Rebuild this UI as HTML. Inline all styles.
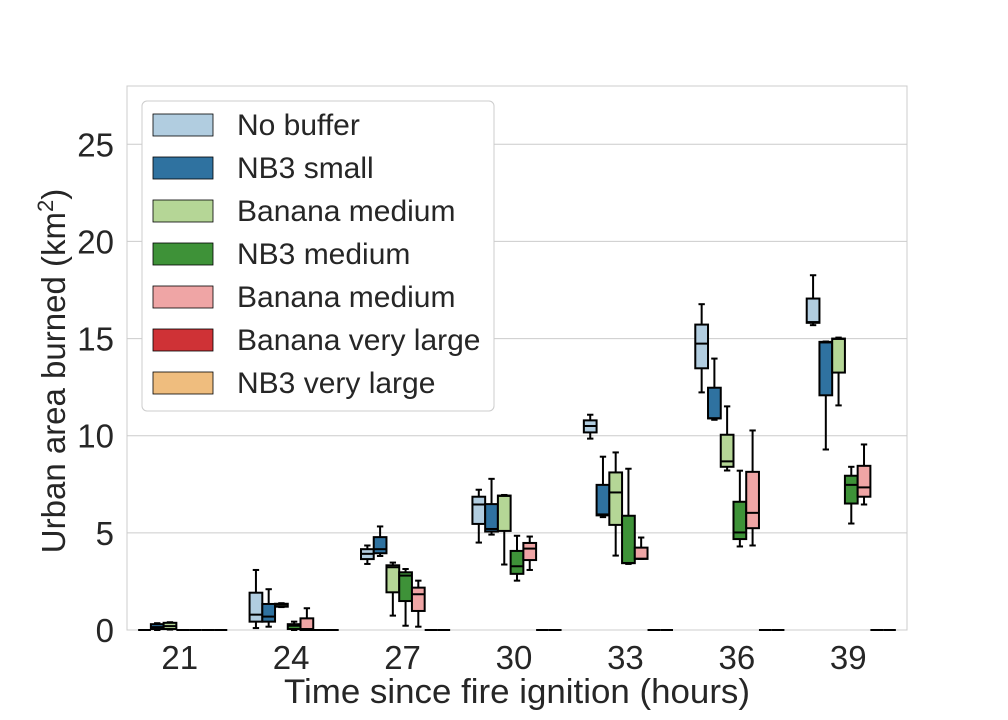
<!DOCTYPE html>
<html><head><meta charset="utf-8"><style>
body{margin:0;background:#fff;}
svg{display:block;font-family:"Liberation Sans",Arial,sans-serif;}
</style></head><body>
<svg id="chart" width="1008" height="720">
<rect x="127" y="86" width="780" height="544" fill="#fff" stroke="#cccccc"/>
<g id="grid"></g>
<g id="boxes"></g>
<g id="ticks"></g>
<text x="517" y="703" font-size="34" fill="#262626" text-anchor="middle" textLength="466" lengthAdjust="spacingAndGlyphs">Time since fire ignition (hours)</text>
<text transform="translate(65,371) rotate(-90)" font-size="33" fill="#262626" text-anchor="middle">Urban area burned (km<tspan baseline-shift="super" font-size="22">2</tspan>)</text>
<g id="legend"></g>
</svg>
<script>
const categories = ["21","24","27","30","33","36","39"];
const seriesNames = ["No buffer","NB3 small","Banana medium","NB3 medium","Banana medium","Banana very large","NB3 very large"];
const colors = ["#b1cde0","#2f72a0","#b5d696","#3e9238","#efa5a5","#cf3236","#efbd7e"];
const yTicks = [0,5,10,15,20,25];
// each entry: [whiskerLow, q1, median, q3, whiskerHigh], per series per category
const s0 = [[0,0,0,0,0],[0.1,0.43,0.79,1.92,3.09],[3.4,3.65,3.92,4.16,4.35],[4.5,5.46,6.46,6.86,7.22],[9.85,10.17,10.5,10.79,11.08],[12.23,13.47,14.74,15.72,16.77],[15.69,15.81,15.85,17.06,18.26]];
const s1 = [[0,0.05,0.15,0.3,0.35],[0.17,0.43,0.69,1.34,2.1],[3.81,3.95,4.16,4.78,5.33],[4.91,5.07,5.2,6.48,7.78],[5.81,5.9,5.95,7.47,8.92],[10.82,10.89,10.9,12.47,13.97],[9.29,12.08,14.8,14.83,14.85]];
const s2 = [[0.02,0.05,0.2,0.37,0.4],[1.18,1.2,1.3,1.35,1.38],[0.74,1.94,3.23,3.33,3.47],[3.37,5.1,6.9,6.92,6.95],[3.83,5.41,7.08,8.11,9.14],[8.21,8.4,8.68,10.05,11.51],[11.56,13.25,14.98,15.0,15.05]];
const s3 = [[0,0,0,0,0],[0,0.05,0.22,0.3,0.43],[0.22,1.49,2.8,2.97,3.14],[2.54,2.89,3.28,4.07,4.85],[3.4,3.44,3.45,5.88,8.3],[4.3,4.68,5.02,6.6,8.2],[5.48,6.51,7.47,7.94,8.4]];
const s4 = [[0,0,0,0,0],[0,0,0.05,0.6,1.12],[0.17,0.98,1.84,2.18,2.54],[3.09,3.6,4.19,4.48,4.81],[3.66,3.66,3.67,4.24,4.76],[4.35,5.24,6.03,8.14,10.27],[6.46,6.86,7.34,8.45,9.55]];
const s5 = [[0,0,0,0,0],[0,0,0,0,0],[0,0,0,0,0],[0,0,0,0,0],[0,0,0,0,0],[0,0,0,0,0],[0,0,0,0,0]];
const s6 = [[0,0,0,0,0],[0,0,0,0,0],[0,0,0,0,0],[0,0,0,0,0],[0,0,0,0,0],[0,0,0,0,0],[0,0,0,0,0]];
const allSeries = [s0,s1,s2,s3,s4,s5,s6];

const NS="http://www.w3.org/2000/svg";
const X0=127,X1=907,Y0=630,Y1=86,YMAX=28;
const gw=(X1-X0)/categories.length;
const bw=gw*0.8/allSeries.length;
function xc(i){return X0+gw*(i+0.5);}
function y(v){return Y0-(v/YMAX)*(Y0-Y1);}
function mk(tag,attrs,parent){const e=document.createElementNS(NS,tag);for(const k in attrs)e.setAttribute(k,attrs[k]);parent.appendChild(e);return e;}

const grid=document.getElementById('grid'),ticks=document.getElementById('ticks');
yTicks.forEach(t=>{
  const l=mk('line',{x1:X0,x2:X1,y1:y(t),y2:y(t),stroke:'#cccccc','stroke-width':1},grid);
  
  
  const tx=mk('text',{x:114,y:y(t)+12,'font-size':33,fill:'#262626','text-anchor':'end'},ticks);
  tx.textContent=t;
  
  
});
categories.forEach((c,i)=>{
  const tx=mk('text',{x:xc(i)-3,y:669,'font-size':33,fill:'#262626','text-anchor':'middle'},ticks);
  tx.textContent=c;
  
  
});
const bg=document.getElementById('boxes');
allSeries.forEach((ser,si)=>{
  ser.forEach((d,ci)=>{
    const cx=xc(ci)-gw*0.4+bw*(si+0.5);
    const g=mk('g',{},bg);
    
    
    const [wl,q1,md,q3,wh]=d;
    const st={stroke:'#000','stroke-width':2};
    mk('line',Object.assign({x1:cx,x2:cx,y1:y(wh),y2:y(q3)},st),g);
    mk('line',Object.assign({x1:cx,x2:cx,y1:y(q1),y2:y(wl)},st),g);
    mk('line',Object.assign({x1:cx-bw/4,x2:cx+bw/4,y1:y(wh),y2:y(wh)},st),g);
    mk('line',Object.assign({x1:cx-bw/4,x2:cx+bw/4,y1:y(wl),y2:y(wl)},st),g);
    mk('rect',{x:cx-bw/2,y:y(q3),width:bw,height:Math.max(0,y(q1)-y(q3)),fill:colors[si],stroke:'#000','stroke-width':2},g);
    mk('line',Object.assign({x1:cx-bw/2,x2:cx+bw/2,y1:y(md),y2:y(md)},st),g);
  });
});
const lg=document.getElementById('legend');
const box=mk('rect',{x:142,y:101,width:352,height:310,rx:5,fill:'#fff',stroke:'#cccccc','stroke-width':1},lg);


seriesNames.forEach((n,i)=>{
  const cy=125+i*43;
  const g=mk('g',{},lg);
  
  
  mk('rect',{x:153,y:cy-11,width:60,height:22,fill:colors[i],stroke:'#000','stroke-width':0.8},g);
  const t=mk('text',{x:237,y:cy+10,'font-size':30,fill:'#262626'},g);
  t.textContent=n;
});
</script>
</body></html>
